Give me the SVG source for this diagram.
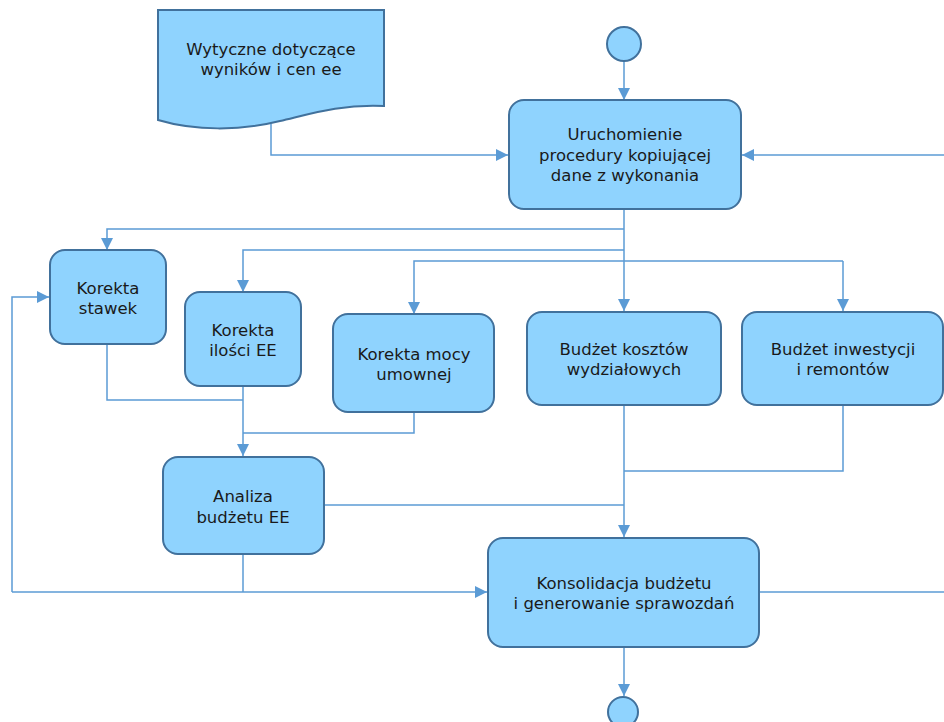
<svg xmlns="http://www.w3.org/2000/svg" width="944" height="722" viewBox="0 0 944 722">
  <style>
    .node { fill: #8fd3fe; stroke: #41719c; stroke-width: 2; }
    .label { font-family: "DejaVu Sans", Verdana, sans-serif; font-size: 16.5px; fill: #1a1a1a; text-anchor: middle; }
    .conn { fill: none; stroke: #5b9bd5; stroke-width: 1.5; }
    .arrow { marker-end: url(#head); }
  </style>
  <defs>
    <marker id="head" markerUnits="userSpaceOnUse" markerWidth="12" markerHeight="12" refX="12" refY="6" orient="auto">
      <path d="M0,0 L12,6 L0,12 z" fill="#5b9bd5"/>
    </marker>
  </defs>
  <rect width="944" height="722" fill="#ffffff"/>

  <!-- connectors -->
  <g id="connectors">
    <path class="conn arrow" d="M624,61 V100"/>
    <path class="conn arrow" d="M271,124 V155 H508"/>
    <path class="conn arrow" d="M944,155 H742"/>
    <path class="conn" d="M759,592 H944"/>
    <path class="conn arrow" d="M624,209 V311"/>
    <path class="conn arrow" d="M624,229 H107 V250"/>
    <path class="conn arrow" d="M624,250 H243 V292"/>
    <path class="conn arrow" d="M843,261 H414 V314"/>
    <path class="conn arrow" d="M843,261 V311"/>
    <path class="conn" d="M107,344 V400 H243"/>
    <path class="conn arrow" d="M243,386 V456"/>
    <path class="conn" d="M414,412 V433 H243"/>
    <path class="conn arrow" d="M624,405 V537"/>
    <path class="conn" d="M843,405 V471 H624"/>
    <path class="conn" d="M324,505 H624"/>
    <path class="conn" d="M243,554 V592"/>
    <path class="conn arrow" d="M12,592 H487"/>
    <path class="conn arrow" d="M12,592 V297 H49"/>
    <path class="conn arrow" d="M624,647 V696"/>
  </g>

  <!-- start -->
  <g id="start">
    <circle class="node" cx="624" cy="44" r="17" stroke-width="1.5"/>
  </g>

  <!-- input document -->
  <g id="wytyczne">
    <path class="node" d="M158,10 H384 V106 C340,104 310,114 280,121 C240,131 195,131 158,120 Z"/>
    <text class="label" x="271" y="55">Wytyczne dotyczące</text>
    <text class="label" x="271" y="75">wyników i cen ee</text>
  </g>

  <g id="uruchomienie">
    <rect class="node" x="509" y="100" width="232" height="109" rx="15"/>
    <text class="label" x="625" y="140">Uruchomienie</text>
    <text class="label" x="625" y="160.5">procedury kopiującej</text>
    <text class="label" x="625" y="181">dane z wykonania</text>
  </g>

  <g id="korekta-stawek">
    <rect class="node" x="50" y="250" width="116" height="94" rx="15"/>
    <text class="label" x="108" y="294">Korekta</text>
    <text class="label" x="108" y="314">stawek</text>
  </g>

  <g id="korekta-ilosci">
    <rect class="node" x="185" y="292" width="116" height="94" rx="15"/>
    <text class="label" x="243" y="336">Korekta</text>
    <text class="label" x="243" y="356">ilości EE</text>
  </g>

  <g id="korekta-mocy">
    <rect class="node" x="333" y="314" width="161" height="98" rx="15"/>
    <text class="label" x="414" y="360">Korekta mocy</text>
    <text class="label" x="414" y="380">umownej</text>
  </g>

  <g id="budzet-kosztow">
    <rect class="node" x="527" y="312" width="194" height="93" rx="15"/>
    <text class="label" x="624" y="355">Budżet kosztów</text>
    <text class="label" x="624" y="375">wydziałowych</text>
  </g>

  <g id="budzet-inwestycji">
    <rect class="node" x="742" y="312" width="201" height="93" rx="15"/>
    <text class="label" x="843" y="355">Budżet inwestycji</text>
    <text class="label" x="843" y="375">i remontów</text>
  </g>

  <g id="analiza">
    <rect class="node" x="163" y="457" width="161" height="97" rx="15"/>
    <text class="label" x="243" y="502">Analiza</text>
    <text class="label" x="243" y="523">budżetu EE</text>
  </g>

  <g id="konsolidacja">
    <rect class="node" x="488" y="538" width="271" height="109" rx="15"/>
    <text class="label" x="624" y="589">Konsolidacja budżetu</text>
    <text class="label" x="624" y="609">i generowanie sprawozdań</text>
  </g>

  <!-- end -->
  <g id="end">
    <circle class="node" cx="623" cy="712" r="15" stroke-width="1.5"/>
  </g>
</svg>
